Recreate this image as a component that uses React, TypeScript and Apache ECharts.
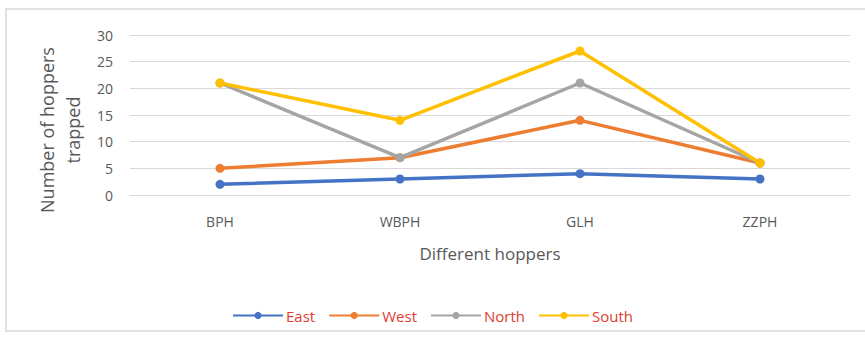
import React, { useEffect, useRef } from "react";
import * as echarts from "echarts";

const categories = ["BPH", "WBPH", "GLH", "ZZPH"];
const eastValues = [2, 3, 4, 3];
const westValues = [5, 7, 14, 6];
const northValues = [21, 7, 21, 6];
const southValues = [21, 14, 27, 6];
const seriesNames = ["East", "West", "North", "South"];
const seriesColors = ["#4472C4", "#ED7D31", "#A5A5A5", "#FFC000"];

const FONT = "'Open Sans', 'Noto Sans', sans-serif";

export default function App() {
  const ref = useRef<HTMLDivElement>(null);

  useEffect(() => {
    if (!ref.current) return;
    const chart = echarts.init(ref.current, null, { renderer: "svg" });
    const values = [eastValues, westValues, northValues, southValues];

    chart.setOption({
      animation: false,
      backgroundColor: "#ffffff",
      textStyle: { fontFamily: FONT },
      graphic: [
        {
          type: "rect",
          shape: { x: 6, y: 9, width: 870, height: 322 },
          style: { fill: "none", stroke: "#e2e2e2", lineWidth: 2 },
          silent: true,
        },
      ],
      grid: { left: 130, right: 15, top: 35, bottom: 146, containLabel: false },
      xAxis: {
        type: "category",
        data: categories,
        boundaryGap: true,
        axisLine: { show: true, lineStyle: { color: "#d9d9d9" } },
        axisTick: { show: false },
        axisLabel: { color: "#595959", fontSize: 14, margin: 19, fontFamily: FONT },
        name: "Different hoppers",
        nameLocation: "middle",
        nameGap: 50,
        nameTextStyle: { color: "#595959", fontSize: 17, fontFamily: FONT },
      },
      yAxis: {
        type: "value",
        min: 0,
        max: 30,
        interval: 5,
        axisLine: { show: false },
        axisTick: { show: false },
        axisLabel: { color: "#595959", fontSize: 14, margin: 17, fontFamily: FONT },
        splitLine: { lineStyle: { color: "#d9d9d9", width: 1 } },
        name: "Number of hoppers\ntrapped",
        nameLocation: "middle",
        nameGap: 43,
        nameRotate: 90,
        nameTextStyle: {
          color: "#595959",
          fontSize: 18,
          lineHeight: 26,
          fontFamily: FONT,
          padding: [0, 30, 0, 0],
        },
      },
      legend: {
        bottom: 13,
        left: "center",
        itemWidth: 50,
        itemHeight: 9,
        itemGap: 13,
        textStyle: { color: "#E03C31", fontSize: 15, fontFamily: FONT, padding: [0, 0, 0, -2] },
        data: seriesNames,
      },
      series: seriesNames.map((name, i) => ({
        name,
        type: "line",
        data: values[i],
        symbol: "circle",
        symbolSize: 9,
        color: seriesColors[i],
        lineStyle: { width: 3.5, color: seriesColors[i] },
        itemStyle: { color: seriesColors[i] },
      })),
    });

    return () => chart.dispose();
  }, []);

  return (
    <div
      ref={ref}
      style={{ position: "absolute", left: 0, top: 0, width: 865, height: 341 }}
    />
  );
}
